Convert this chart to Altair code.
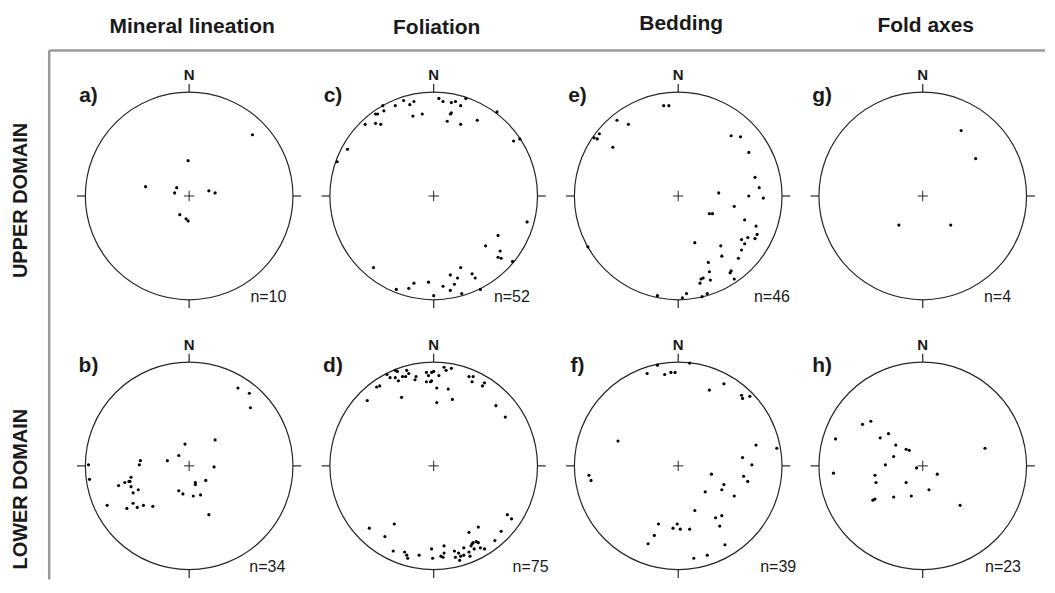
import altair as alt
import pandas as pd

# ---------------- data (normalised stereonet coordinates: x = east, y = north, unit radius) ----------------
col_titles = ["Mineral lineation", "Foliation", "Bedding", "Fold axes"]
row_titles = ["UPPER DOMAIN", "LOWER DOMAIN"]

# a) upper domain, mineral lineation
a_x = [0.61, -0.01, -0.42, -0.12, -0.14, 0.19, 0.25, -0.09, -0.03, -0.01]
a_y = [0.59, 0.34, 0.09, 0.08, 0.03, 0.05, 0.03, -0.18, -0.22, -0.24]

# c) upper domain, foliation
c_x = [-0.49, -0.37, -0.29, -0.23, -0.19, -0.48, -0.56, -0.54, -0.66, -0.56, -0.51, -0.20, -0.11, -0.83, -0.93,
       0.05, 0.09, 0.17, 0.21, 0.26, 0.31, 0.16, 0.17, 0.13, 0.26, 0.42, 0.61, 0.77, 0.83,
       0.90, 0.62, 0.50, 0.64, 0.62, 0.65, 0.76,
       -0.58, 0.26, 0.16, 0.23, 0.37, 0.40, 0.09, 0.20, -0.19, -0.05, -0.24, -0.36, 0.16, 0.00, 0.27, 0.45]
c_y = [0.87, 0.87, 0.92, 0.88, 0.91, 0.82, 0.79, 0.79, 0.69, 0.70, 0.69, 0.77, 0.79, 0.45, 0.33,
       0.94, 0.91, 0.90, 0.91, 0.87, 0.94, 0.79, 0.80, 0.72, 0.69, 0.73, 0.81, 0.53, 0.55,
       -0.25, -0.38, -0.48, -0.53, -0.59, -0.60, -0.63,
       -0.69, -0.69, -0.76, -0.79, -0.75, -0.79, -0.87, -0.85, -0.84, -0.83, -0.89, -0.90, -0.91, -0.96, -0.94, -0.90]

# e) upper domain, bedding
e_x = [-0.14, -0.09, -0.59, -0.48, -0.76, -0.81, -0.78, -0.63, 0.51, 0.60, 0.68, 0.74, 0.78, 0.68, 0.82,
       0.39, 0.54, 0.30, 0.33, 0.64, 0.75, 0.76, 0.67, 0.61, 0.64, 0.74, 0.16, 0.41, 0.61, 0.42, 0.58,
       0.29, 0.30, 0.51, 0.50, 0.24, 0.22, 0.21, 0.31, 0.54, -0.87, -0.20, 0.08, 0.04, 0.23, 0.28]
e_y = [0.87, 0.87, 0.73, 0.69, 0.60, 0.56, 0.55, 0.47, 0.58, 0.57, 0.42, 0.18, 0.08, 0.00, -0.02,
       0.03, -0.10, -0.17, -0.17, -0.23, -0.29, -0.37, -0.40, -0.42, -0.46, -0.41, -0.45, -0.48, -0.52, -0.58, -0.60,
       -0.64, -0.73, -0.72, -0.74, -0.79, -0.80, -0.84, -0.81, -0.80, -0.49, -0.96, -0.94, -0.98, -0.97, -0.94]

# g) upper domain, fold axes
g_x = [0.37, 0.51, -0.23, 0.27]
g_y = [0.63, 0.36, -0.28, -0.28]

# b) lower domain, mineral lineation
b_x = [0.47, 0.58, 0.59, 0.25, -0.04, -0.10, -0.21, -0.47, -0.48, -0.97, -0.96, 0.24, 0.16, 0.06, 0.06,
       -0.10, -0.06, 0.04, 0.11, 0.19, -0.56, -0.58, -0.62, -0.68, -0.56, -0.54, -0.49, -0.79, -0.60, -0.54,
       -0.50, -0.44, -0.35, -0.57]
b_y = [0.75, 0.70, 0.56, 0.25, 0.21, 0.10, 0.05, 0.05, 0.01, 0.01, -0.13, -0.01, -0.14, -0.16, -0.18,
       -0.24, -0.27, -0.29, -0.28, -0.47, -0.11, -0.15, -0.16, -0.19, -0.20, -0.26, -0.23, -0.38, -0.41, -0.36,
       -0.40, -0.38, -0.39, -0.15]

# d) lower domain, foliation
d_x = [-0.45, -0.37, -0.35, -0.42, -0.37, -0.34, -0.30, -0.27, -0.26, -0.24,
       -0.55, -0.52, -0.64, -0.31, -0.17, -0.18, -0.07, -0.02, -0.05, 0.00,
       -0.07, -0.02, -0.03, 0.05, 0.03, 0.03, 0.10, 0.12, 0.17, 0.14,
       0.18, 0.34, 0.38, 0.37, 0.49, 0.47, 0.60, 0.69, 0.71, 0.75,
       0.43, 0.34, 0.65, 0.59, -0.62, -0.38, -0.47, -0.39, -0.28, -0.26,
       -0.25, -0.14, -0.02, 0.10, 0.10, 0.07, -0.01, 0.20, 0.24, 0.26,
       0.25, 0.29, 0.35, 0.36, 0.38, 0.41, 0.43, 0.39, 0.45, 0.49,
       0.34, 0.37, 0.29, 0.21, 0.09]
d_y = [0.88, 0.92, 0.91, 0.85, 0.85, 0.82, 0.86, 0.86, 0.92, 0.89,
       0.76, 0.77, 0.63, 0.66, 0.86, 0.83, 0.90, 0.90, 0.87, 0.91,
       0.81, 0.82, 0.81, 0.87, 0.75, 0.61, 0.95, 0.92, 0.94, 0.74,
       0.64, 0.86, 0.86, 0.81, 0.80, 0.77, 0.58, 0.47, -0.47, -0.51,
       -0.59, -0.64, -0.63, -0.72, -0.60, -0.56, -0.68, -0.82, -0.83, -0.86,
       -0.89, -0.86, -0.80, -0.77, -0.84, -0.87, -0.89, -0.82, -0.84, -0.87,
       -0.91, -0.86, -0.87, -0.77, -0.74, -0.73, -0.74, -0.80, -0.79, -0.80,
       -0.83, -0.75, -0.79, -0.88, -0.88]

# f) lower domain, bedding
f_x = [-0.30, -0.20, -0.13, -0.07, -0.03, 0.11, 0.30, 0.44, 0.61, 0.62, 0.69, -0.58, 0.75, 0.95, 0.62,
       0.71, -0.86, -0.84, 0.32, 0.63, 0.67, 0.44, 0.42, 0.26, 0.54, 0.16, 0.36, 0.42, 0.40, -0.19,
       -0.01, -0.05, 0.02, 0.11, -0.23, -0.29, 0.45, 0.28, 0.15]
f_y = [0.89, 0.97, 0.88, 0.90, 0.90, 0.99, 0.73, 0.79, 0.68, 0.65, 0.67, 0.24, 0.20, 0.17, 0.08,
       0.01, -0.09, -0.14, -0.08, -0.10, -0.15, -0.18, -0.23, -0.25, -0.29, -0.43, -0.50, -0.48, -0.58, -0.56,
       -0.56, -0.60, -0.61, -0.61, -0.67, -0.75, -0.76, -0.86, -0.89]

# h) lower domain, fold axes
h_x = [-0.58, -0.50, -0.84, -0.41, -0.33, -0.26, -0.16, -0.13, -0.28, -0.36, -0.06, -0.86, -0.46, -0.45,
       -0.16, 0.14, 0.06, 0.60, -0.28, -0.11, -0.48, -0.46, 0.36]
h_y = [0.40, 0.43, 0.26, 0.27, 0.31, 0.20, 0.16, 0.15, 0.09, 0.01, -0.02, -0.07, -0.09, -0.16,
       -0.16, -0.08, -0.23, 0.17, -0.30, -0.29, -0.33, -0.32, -0.38]

top_panels = [("a)", a_x, a_y, "n=10"), ("c)", c_x, c_y, "n=52"), ("e)", e_x, e_y, "n=46"), ("g)", g_x, g_y, "n=4")]
bot_panels = [("b)", b_x, b_y, "n=34"), ("d)", d_x, d_y, "n=75"), ("f)", f_x, f_y, "n=39"), ("h)", h_x, h_y, "n=23")]

# ---------------- layout / style ----------------
FONT = "Liberation Sans"
INK = "#1a1a1a"
R_PX = 104.0             # stereonet radius in px
PW = 245.0               # panel width
PH = 228.8               # panel height
LEFT_W = 59.0
ROW_GAP = 41.4
HEAD_H = 73.1 - ROW_GAP
XD = PW / 2 / R_PX
YD = PH / 2 / R_PX
n_label_x = {"a)": 0.59, "c)": 0.58, "e)": 0.73, "g)": 0.59, "b)": 0.58, "d)": 0.76, "f)": 0.79, "h)": 0.60}
head_y = [18, 19, 15, 17]

sx = alt.Scale(domain=[-XD, XD], nice=False, zero=False)
sy = alt.Scale(domain=[-YD, YD], nice=False, zero=False)


def X(f):
    return alt.X(f"{f}:Q", scale=sx, axis=None)


def Y(f):
    return alt.Y(f"{f}:Q", scale=sy, axis=None)


def panel(letter, xs, ys, nlab):
    circle = alt.Chart(pd.DataFrame({"x": [0.0], "y": [0.0]})).mark_point(
        shape="circle", size=(2 * R_PX) ** 2, filled=False, color="#262626",
        strokeWidth=1.2, opacity=1).encode(x=X("x"), y=Y("y"))
    tk = 0.08
    ticks_df = pd.DataFrame({"x": [0, 0, -1, 1], "x2": [0, 0, -1 - tk, 1 + tk],
                             "y": [1, -1, 0, 0], "y2": [1 + tk, -1 - tk, 0, 0]})
    ticks = alt.Chart(ticks_df).mark_rule(color="#262626", strokeWidth=1.2).encode(
        x=X("x"), x2="x2:Q", y=Y("y"), y2="y2:Q")
    cr = 0.05
    cross_df = pd.DataFrame({"x": [-cr, 0], "x2": [cr, 0], "y": [0, -cr], "y2": [0, cr]})
    cross = alt.Chart(cross_df).mark_rule(color="#262626", strokeWidth=1.0).encode(
        x=X("x"), x2="x2:Q", y=Y("y"), y2="y2:Q")
    pts = alt.Chart(pd.DataFrame({"x": xs, "y": ys})).mark_circle(
        size=10, color="black", opacity=1).encode(x=X("x"), y=Y("y"))
    n_txt = alt.Chart(pd.DataFrame({"x": [0.0], "y": [1.165], "t": ["N"]})).mark_text(
        font=FONT, fontSize=15, fontWeight="bold", color=INK, baseline="middle", align="center").encode(
        x=X("x"), y=Y("y"), text="t:N")
    let_txt = alt.Chart(pd.DataFrame({"x": [-0.97], "y": [0.965], "t": [letter]})).mark_text(
        font=FONT, fontSize=21, fontWeight="bold", color=INK, baseline="middle", align="center").encode(
        x=X("x"), y=Y("y"), text="t:N")
    cnt_txt = alt.Chart(pd.DataFrame({"x": [n_label_x[letter]], "y": [-0.97], "t": [nlab]})).mark_text(
        font=FONT, fontSize=16, color=INK, baseline="middle", align="left").encode(
        x=X("x"), y=Y("y"), text="t:N")
    return alt.layer(circle, ticks, cross, pts, n_txt, let_txt, cnt_txt).properties(width=PW, height=PH)


one = pd.DataFrame({"k": [0]})

# top-left cell: the grey frame lines
frame = alt.layer(
    alt.Chart(one).mark_rule(color="#9a9a9a", strokeWidth=2.5).encode(
        x=alt.value(41.3), x2=alt.value(1039), y=alt.value(42)),
    alt.Chart(one).mark_rule(color="#9a9a9a", strokeWidth=2.5).encode(
        x=alt.value(41.3), y=alt.value(42), y2=alt.value(572)),
).properties(width=LEFT_W, height=HEAD_H)

# column titles
head_cells = []
for name, yy in zip(col_titles, head_y):
    head_cells.append(
        alt.Chart(pd.DataFrame({"t": [name]})).mark_text(
            font=FONT, fontSize=21, fontWeight="bold", color=INK, baseline="middle", align="center").encode(
            text="t:N", x=alt.value(125.5), y=alt.value(yy)).properties(width=PW, height=HEAD_H))


def row_label(name, yy):
    return alt.Chart(pd.DataFrame({"t": [name]})).mark_text(
        font=FONT, fontSize=20, fontWeight="bold", color=INK, angle=270, baseline="middle", align="center").encode(
        text="t:N", x=alt.value(13), y=alt.value(yy)).properties(width=LEFT_W, height=PH)


cells = [frame] + head_cells
cells += [row_label(row_titles[0], 118.9)] + [panel(*p) for p in top_panels]
cells += [row_label(row_titles[1], 137.7)] + [panel(*p) for p in bot_panels]

chart = alt.concat(
    *cells, columns=5, spacing={"row": ROW_GAP, "column": 0}, bounds="flush", align="each"
).properties(padding=0, background="white").configure_view(stroke=None)

chart.save("out.html", embed_options={"renderer": "svg", "actions": False})
